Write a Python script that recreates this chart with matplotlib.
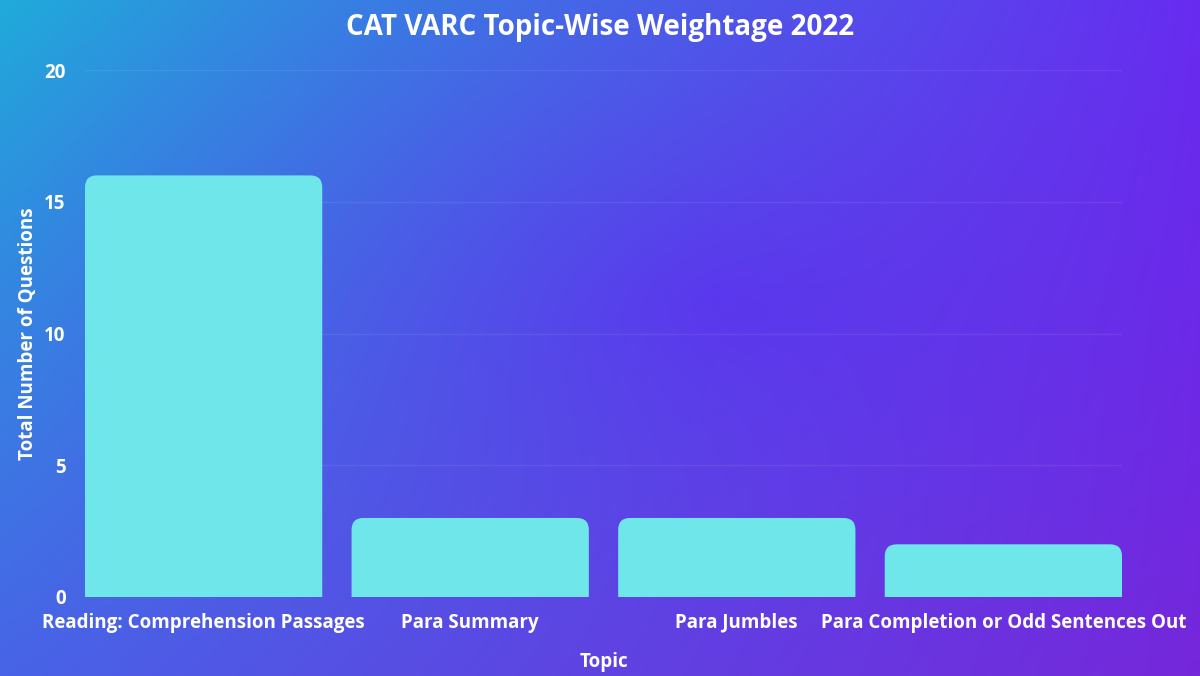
import numpy as np
import matplotlib
matplotlib.use("Agg")
import matplotlib.pyplot as plt
from matplotlib.patches import FancyBboxPatch

categories = ["Reading: Comprehension Passages", "Para Summary", "Para Jumbles",
              "Para Completion or Odd Sentences Out"]
values = [16, 3, 3, 2]
yticks = [0, 5, 10, 15, 20]

plt.rcParams['font.family'] = ['Open Sans', 'DejaVu Sans']
fig = plt.figure(figsize=(12, 6.76), dpi=100)

# gradient background
bg = fig.add_axes([0, 0, 1, 1])
H, W = 200, 360
yy, xx = np.mgrid[0:1:H*1j, 0:1:W*1j]
tl = np.array([25, 185, 215]); tr = np.array([105, 45, 240])
bl = np.array([70, 105, 230]); br = np.array([120, 40, 215])
img = (tl*(1-xx)[..., None]*(1-yy)[..., None] + tr*xx[..., None]*(1-yy)[..., None]
       + bl*(1-xx)[..., None]*yy[..., None] + br*xx[..., None]*yy[..., None])
w = 0.6*np.exp(-np.sqrt((xx-0.6)**2 + (yy-0.45)**2)*2.5)[..., None]
img = img*(1-w) + np.array([95, 35, 245])*w
bg.imshow(np.clip(img/255.0, 0, 1), aspect='auto', extent=[0, 1, 0, 1])
bg.axis('off')

ax = fig.add_axes([85/1200, 1-597/676, (1122-85)/1200, (597-70)/676])
ax.patch.set_alpha(0)
ax.set_xlim(-0.445, 3.445)
ax.set_ylim(0, 20)
width = 0.89
r = 0.045
for i, v in enumerate(values):
    p = FancyBboxPatch((i - width/2, -1), width, v + 1,
                       boxstyle=f"round,pad=0,rounding_size={r}",
                       mutation_aspect=10.1, fc='#6ee6ea', ec='none', zorder=3)
    ax.add_patch(p)
for y in yticks[1:]:
    ax.axhline(y, color='white', alpha=0.08, lw=1, zorder=1)
for s in ax.spines.values():
    s.set_visible(False)
ax.set_xticks(range(len(categories)))
ax.set_xticklabels(categories, color='white', fontsize=13.5, fontweight='bold', va='baseline')
ax.set_yticks(yticks)
ax.set_yticklabels([str(t) for t in yticks], color='white', fontsize=13.5, fontweight='bold')
ax.tick_params(length=0)
ax.tick_params(axis='x', pad=22)
ax.tick_params(axis='y', pad=14)
ax.set_xlabel("Topic", color='white', fontsize=13.5, fontweight='bold', labelpad=14)
ax.set_ylabel("Total Number of Questions", color='white', fontsize=13.5, fontweight='bold', labelpad=4)
fig.text(0.5, 1-27/676, "CAT VARC Topic-Wise Weightage 2022", color='white',
         fontsize=20, fontweight='bold', ha='center', va='center')
fig.savefig("out.png", dpi=100)
